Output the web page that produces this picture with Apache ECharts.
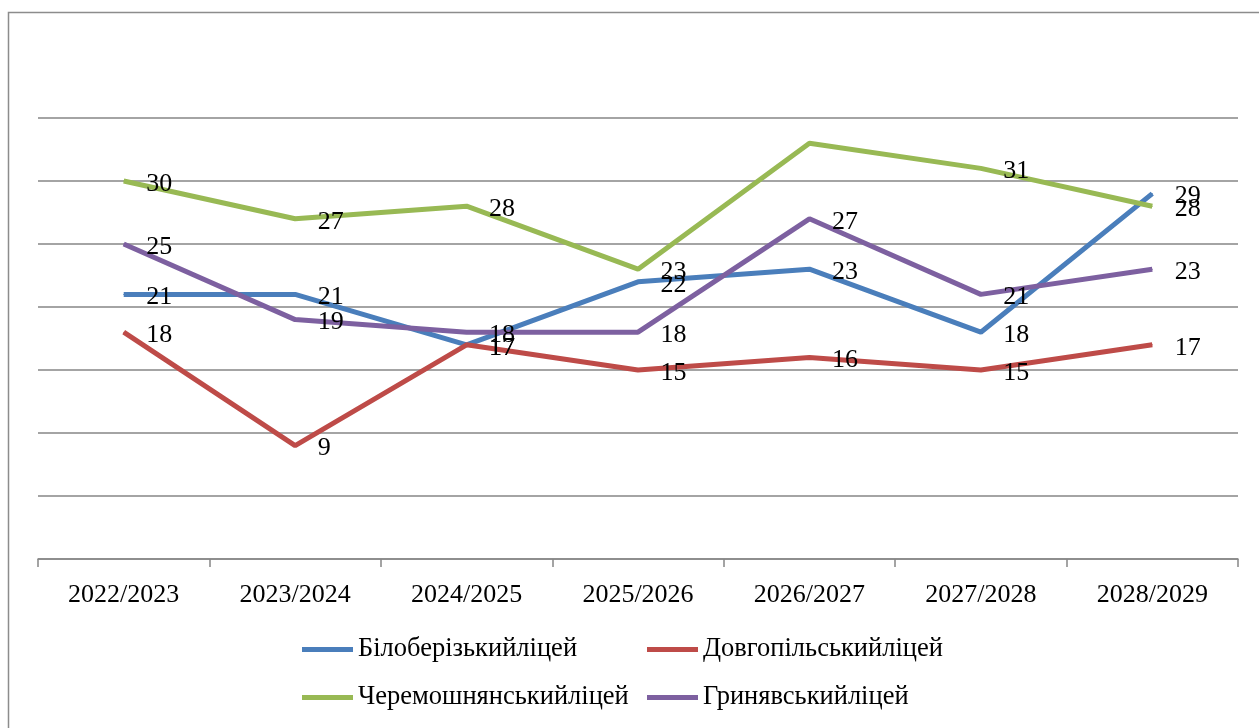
<!DOCTYPE html>
<html>
<head>
<meta charset="utf-8">
<script src="https://cdn.jsdelivr.net/npm/echarts@6/dist/echarts.min.js"></script>
<style>
html, body { margin: 0; padding: 0; background: #fff; }
#chart { width: 1259px; height: 728px; }
</style>
</head>
<body>
<div id="chart"></div>
<script>
// роки
const years = ['2022/2023', '2023/2024', '2024/2025', '2025/2026', '2026/2027', '2027/2028', '2028/2029']

// значення по ліцеях
const bilober = [21, 21, 17, 22, 23, 18, 29]
const dovhopil = [18, 9, 17, 15, 16, 15, 17]
const cheremosh = [30, 27, 28, 23, 33, 31, 28]
const hryniava = [25, 19, 18, 18, 27, 21, 23]

const names = ['Білоберізькийліцей', 'Довгопільськийліцей', 'Черемошнянськийліцей', 'Гринявськийліцей']
const colors = ['#4A7EBB', '#BE4B48', '#98B954', '#7D60A0']
const values = [bilober, dovhopil, cheremosh, hryniava]

// на оригіналі підпис 33 не видно
const hiddenLabels = { 2: [4] }

const font = '"Liberation Serif", "Times New Roman", serif'

const chart = echarts.init(document.getElementById('chart'))

const legendBase = {
    orient: 'vertical',
    top: 631,
    itemGap: 21,
    itemWidth: 51,
    itemHeight: 5,
    icon: 'rect',
    textStyle: { fontFamily: font, fontSize: 26.5, color: '#000' }
}

const option = {
    animation: false,
    backgroundColor: '#fff',
    graphic: [{
        type: 'rect',
        shape: { x: 8.5, y: 12.5, width: 1300, height: 800 },
        style: { fill: 'none', stroke: '#8c8c8c', lineWidth: 1.5 },
        silent: true
    }],
    grid: { left: 38, right: 21, top: 118, bottom: 169 },
    legend: [
        Object.assign({}, legendBase, { left: 297, data: [names[0], names[2]] }),
        Object.assign({}, legendBase, { left: 642, data: [names[1], names[3]] })
    ],
    xAxis: {
        type: 'category',
        data: years,
        axisLine: { lineStyle: { color: '#868686', width: 1.5 } },
        axisTick: { show: true, length: 8, lineStyle: { color: '#868686', width: 1.5 } },
        axisLabel: { color: '#000', fontFamily: font, fontSize: 26, margin: 23 }
    },
    yAxis: {
        type: 'value',
        min: 0,
        max: 35,
        interval: 5,
        axisLine: { show: false },
        axisTick: { show: false },
        axisLabel: { show: false },
        splitLine: { lineStyle: { color: '#868686', width: 1.5 } }
    },
    series: values.map((data, i) => ({
        name: names[i],
        type: 'line',
        data: data.map((v, j) => {
            if (hiddenLabels[i] && hiddenLabels[i].includes(j)) {
                return { value: v, label: { show: false } }
            }
            return v
        }),
        symbol: 'circle',
        symbolSize: 1,
        color: colors[i],
        itemStyle: { color: colors[i] },
        lineStyle: { color: colors[i], width: 5 },
        label: {
            show: true,
            position: 'right',
            distance: 22,
            offset: [0, 3],
            color: '#000',
            fontFamily: font,
            fontSize: 26
        }
    }))
}

chart.setOption(option)
</script>
</body>
</html>
